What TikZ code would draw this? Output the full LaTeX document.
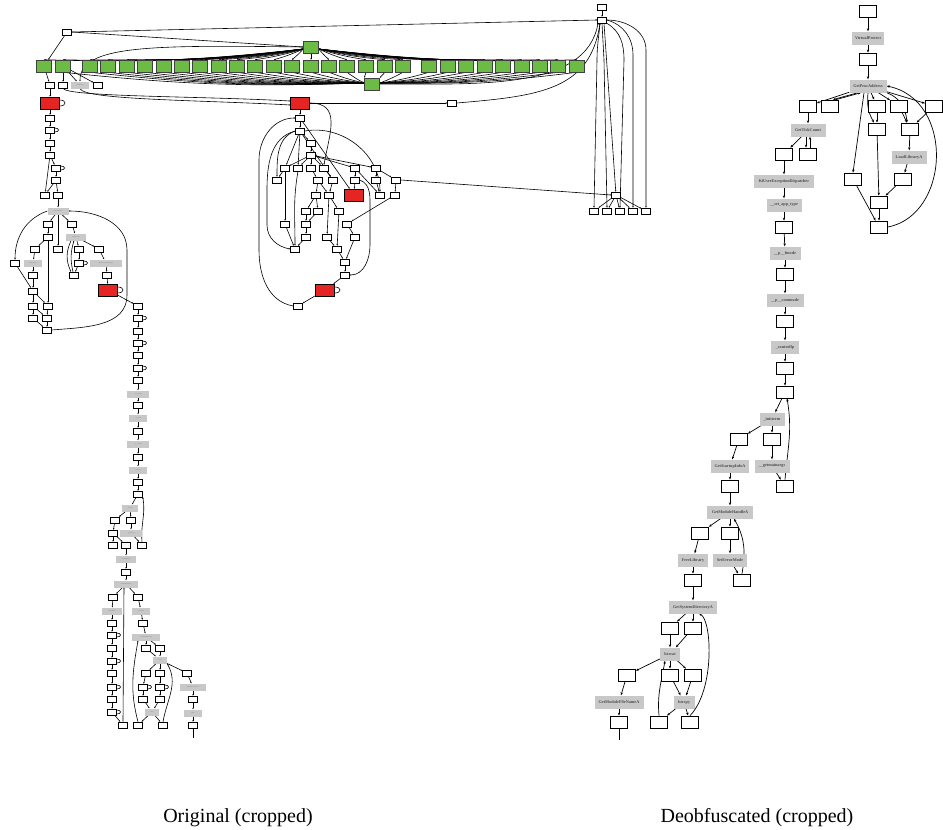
\documentclass[tikz,border=0pt]{standalone}
\usepackage{fontspec}
\setmainfont{Liberation Serif}
\usetikzlibrary{arrows.meta}
\pgfdeclarelayer{bg}\pgfsetlayers{bg,main}
\definecolor{gfill}{RGB}{108,187,69}
\definecolor{rfill}{RGB}{228,37,36}
\definecolor{lgray}{RGB}{200,200,200}
\tikzset{
 ob/.style={draw,fill=white,line width=0.55pt,minimum width=9pt,minimum height=6pt,inner sep=0pt},
 rb/.style={draw,fill=rfill,line width=0.55pt,minimum width=19pt,minimum height=12pt,inner sep=0pt},
 gb/.style={draw=black!75,fill=gfill,line width=0.55pt,minimum width=15pt,minimum height=12pt,inner sep=0pt},
 og/.style={fill=lgray,minimum width=#1,minimum height=7pt,inner sep=0pt,font=\fontsize{1.3}{1.4}\selectfont,text=black!60},
 og/.default=20pt,
 db/.style={draw,fill=white,line width=0.8pt,minimum width=17pt,minimum height=12pt,inner sep=0pt},
 dg/.style={fill=lgray,minimum width=#1,minimum height=13pt,inner sep=0pt,font=\fontsize{4.2}{4.5}\selectfont\bfseries,text=black!70},
 oe/.style={line width=0.6pt,-{Stealth[length=1.6pt,width=1.4pt]}},
 ol/.style={line width=0.6pt},
 de/.style={line width=0.7pt,-{Stealth[length=3pt,width=2.4pt]}},
 dl/.style={line width=0.7pt},
 captxt/.style={font=\fontsize{20}{24}\selectfont}
}
\newcommand\oloop[1]{\draw[ol] ([yshift=2pt]#1.east) .. controls +(5pt,0pt) and +(5pt,0pt) .. ([yshift=-2pt]#1.east);}
\newcommand\rloop[1]{\draw[ol] ([yshift=3pt]#1.east) .. controls +(7pt,0pt) and +(7pt,0pt) .. ([yshift=-3pt]#1.east);}
\begin{document}
\begin{tikzpicture}[x=1pt,y=-1pt]
\useasboundingbox (0,0) rectangle (943,830);
% ---------------- top of original ----------------
\node[ob] (tt0) at (602,7) {};
\node[ob] (tt1) at (602,20) {};
\node[ob] (ta) at (67,32) {};
\node[gb] (gu) at (311,47) {};
\node[gb] (gl) at (372,84) {};
\foreach \x [count=\i] in {44,63,90,108,127,145,164,182,200,219,237,255,274,292,311,329,347,366,385,403,429,448,466,485,503,522,540,558,577}
  \node[gb] (g\i) at (\x,66) {};
\node[ob] (b0) at (50,85) {};
\node[ob] (b1) at (63,85) {};
\node[og=18pt] (l0) at (80,85) {VirtualProtect};
\node[ob] (b3) at (98,85) {};
\node[rb] (pr0) at (50,103) {};
\node[rb] (hr1) at (300,103) {};
\node[ob] (hp) at (452,103) {};
\node[ob] (qq) at (616,195) {};
\foreach \x [count=\i] in {594,607,620,633,646} \node[ob] (qk\i) at (\x,211) {};
% ---------------- left chain ----------------
\node[ob] (pc1) at (50,118) {};
\node[ob] (pc2) at (50,130) {};
\node[ob] (pc3) at (50,143) {};
\node[ob] (pc4) at (50,155) {};
\node[ob] (pc5) at (56,168) {};
\node[ob] (pc6) at (56,180) {};
\node[ob] (pc7) at (45,195) {};
\node[ob] (pc8) at (58,195) {};
\node[og=21pt] (pl1) at (58,211) {GetProcAddress};
\node[ob] (pd1) at (48,224) {};
\node[ob] (pd2) at (72,224) {};
\node[ob] (pd3) at (48,237) {};
\node[og=20pt] (pl2) at (76,237) {GetTickCount};
\node[ob] (pe1) at (35,249) {};
\node[ob] (pe2) at (58,249) {};
\node[ob] (pe3) at (79,249) {};
\node[ob] (pe4) at (99,249) {};
\node[ob] (pf0) at (15,263) {};
\node[og=18pt] (pl3) at (33,263) {LoadLibraryA};
\node[ob] (pf1) at (79,263) {};
\node[og=32pt] (pl4) at (106,263) {KiUserExceptionDispatcher};
\node[ob] (pf2) at (33,275) {};
\node[ob] (pf3) at (74,275) {};
\node[ob] (pf4) at (107,275) {};
\node[ob] (pj1) at (33,291) {};
\node[rb] (pr2) at (108,290) {};
\node[ob] (pj2) at (33,306) {};
\node[ob] (pj3) at (48,306) {};
\node[ob] (pk0) at (33,318) {};
\node[ob] (pk1) at (47,318) {};
\node[ob] (pk2) at (47,330) {};
% ---------------- vertical chain ----------------
\foreach \y [count=\i from 0] in {306,318,331,343,355,368,380} \node[ob] (v\i) at (138,\y) {};
\node[og=22pt] (vs1) at (138,394) {\_\_set\_app\_type};
\node[ob] (v7) at (138,405) {};
\node[og=18pt] (vs2) at (138,418) {\_\_p\_\_fmode};
\node[ob] (v8) at (138,431) {};
\node[og=22pt] (vs3) at (138,444) {\_\_p\_\_commode};
\node[ob] (v9) at (138,457) {};
\node[og=18pt] (vs4) at (138,470) {\_controlfp};
\node[ob] (v10) at (138,482) {};
\node[ob] (v11) at (138,494) {};
\node[og=16pt] (vs5) at (130,508) {\_initterm};
\node[ob] (vn0) at (115,520) {};
\node[ob] (vn1) at (131,520) {};
\node[ob] (vn2) at (113,533) {};
\node[og=22pt] (vs6) at (131,533) {\_\_getmainargs};
\node[ob] (vp0) at (113,545) {};
\node[ob] (vp1) at (126,545) {};
\node[ob] (vp2) at (142,545) {};
\node[og=20pt] (vs7) at (126,559) {GetStartupInfoA};
\node[ob] (vq0) at (126,572) {};
\node[og=24pt] (vs8) at (126,584) {GetModuleHandleA};
\node[ob] (vq1) at (113,597) {};
\node[ob] (vq2) at (138,597) {};
\node[og=20pt] (vs9) at (112,611) {SetErrorMode};
\node[og=18pt] (vs10) at (141,611) {FreeLibrary};
\foreach \y [count=\i from 0] in {623,635,648,661,673,687,699,712} \node[ob] (vw\i) at (112,\y) {};
\node[ob] (vw8) at (143,623) {};
\node[og=28pt] (vs11) at (146,637) {GetSystemDirectoryA};
\node[ob] (vt0) at (146,648) {};
\node[ob] (vt1) at (160,648) {};
\node[og=14pt] (vs12) at (160,660) {lstrcat};
\node[ob] (vu0) at (146,673) {};
\node[ob] (vu1) at (160,673) {};
\node[ob] (vu2) at (187,673) {};
\node[ob] (vu3) at (143,687) {};
\node[ob] (vu4) at (143,699) {};
\node[ob] (vu5) at (160,687) {};
\node[ob] (vu6) at (160,699) {};
\node[og=14pt] (vs13) at (152,712) {lstrcpy};
\node[ob] (vy0) at (123,725) {};
\node[ob] (vy1) at (138,725) {};
\node[ob] (vy2) at (163,725) {};
\node[og=26pt] (vs14) at (193,687) {GetModuleFileNameA};
\node[ob] (vx0) at (193,699) {};
\node[og=18pt] (vs15) at (193,713) {lstrlen};
\node[ob] (vx1) at (193,725) {};
\coordinate (vend) at (193,738);
% ---------------- middle cluster ----------------
\node[ob] (h1) at (300,118) {};
\node[ob] (h2) at (300,131) {};
\node[ob] (h3) at (311,143) {};
\node[ob] (h4) at (311,155) {};
\foreach \x [count=\i] in {285,298,311,324,355,376} \node[ob] (ha\i) at (\x,168) {};
\foreach \x [count=\i] in {277,318,333,355,376,396} \node[ob] (hb\i) at (\x,180) {};
\node[rb] (hr3) at (354,195) {};
\foreach \x [count=\i] in {316,329,380,395} \node[ob] (hc\i) at (\x,195) {};
\foreach \x [count=\i] in {306,318,339} \node[ob] (hd\i) at (\x,211) {};
\foreach \x [count=\i] in {285,306,347} \node[ob] (he\i) at (\x,224) {};
\foreach \x [count=\i] in {306,327,355} \node[ob] (hf\i) at (\x,237) {};
\node[ob] (hg1) at (295,249) {};
\node[ob] (hg2) at (337,249) {};
\node[ob] (hh1) at (345,262) {};
\node[ob] (hh2) at (345,275) {};
\node[rb] (hr4) at (325,290) {};
\node[ob] (hz) at (298,306) {};
% ---------------- deobfuscated ----------------
\node[db] (r0) at (868,11) {};
\node[dg=32pt] (rVP) at (868,38) {VirtualProtect};
\node[db] (r1) at (868,59) {};
\node[dg=37pt] (rGPA) at (868,86) {GetProcAddress};
\foreach \x [count=\i] in {808,830,877,899,934} \node[db] (ra\i) at (\x,106) {};
\node[dg=35pt] (rGTC) at (808,130) {GetTickCount};
\node[db] (rb1) at (877,129) {};
\node[db] (rb2) at (910,129) {};
\node[db] (rc1) at (784,154) {};
\node[db] (rc2) at (808,154) {};
\node[dg=35pt] (rLL) at (909,157) {LoadLibraryA};
\node[dg=60pt] (rKi) at (784,181) {KiUserExceptionDispatcher};
\node[db] (rd1) at (853,179) {};
\node[db] (rd2) at (903,179) {};
\node[dg=35pt] (rSA) at (784,205) {\_\_set\_app\_type};
\node[db] (re1) at (879,202) {};
\node[db] (rf0) at (784,227) {};
\node[db] (rf1) at (879,227) {};
\node[dg=31pt] (rPF) at (785,253) {\_\_p\_\_fmode};
\node[db] (rg0) at (785,274) {};
\node[dg=37pt] (rPC) at (785,300) {\_\_p\_\_commode};
\node[db] (rg1) at (785,321) {};
\node[dg=28pt] (rCF) at (785,347) {\_controlfp};
\node[db] (rg2) at (785,368) {};
\node[db] (rg3) at (785,392) {};
\node[dg=25pt] (rIT) at (772,419) {\_initterm};
\node[db] (rh1) at (739,439) {};
\node[db] (rh2) at (772,439) {};
\node[dg=38pt] (rGS) at (730,466) {GetStartupInfoA};
\node[dg=35pt] (rGM) at (772,466) {\_\_getmainargs};
\node[db] (ri1) at (730,486) {};
\node[db] (ri2) at (785,486) {};
\node[dg=46pt] (rGMH) at (730,512) {GetModuleHandleA};
\node[db] (rj1) at (700,533) {};
\node[db] (rj2) at (730,533) {};
\node[dg=30pt] (rFL) at (693,560) {FreeLibrary};
\node[dg=34pt] (rSE) at (730,560) {SetErrorMode};
\node[db] (rk1) at (693,580) {};
\node[db] (rk2) at (742,580) {};
\node[dg=48pt] (rGSD) at (693,607) {GetSystemDirectoryA};
\node[db] (rl1) at (670,628) {};
\node[db] (rl2) at (693,628) {};
\node[dg=20pt] (rLC) at (670,654) {lstrcat};
\node[db] (rm1) at (627,675) {};
\node[db] (rm2) at (670,675) {};
\node[db] (rm3) at (693,675) {};
\node[dg=49pt] (rGMF) at (619,702) {GetModuleFileNameA};
\node[dg=21pt] (rLY) at (684,702) {lstrcpy};
\node[db] (rn1) at (619,722) {};
\node[db] (rn2) at (659,722) {};
\node[db] (rn3) at (690,722) {};
\coordinate (rend) at (619,740);
% captions
\node[captxt] (cap1) at (238,818) {Original (cropped)};
\node[captxt] (cap2) at (757,818) {Deobfuscated (cropped)};
% loops
\rloop{pr0}\rloop{pr2}\rloop{hr4}
\foreach \n in {pc2,pc5,pf1,v1,v3,v5,vw1,vw3,vw5,vw7,vu3,vu5} {\oloop{\n}}
% ---------------- edges ----------------
\begin{pgfonlayer}{bg}
\draw[oe] (tt0) -- (tt1);
\draw[oe] (ta) -- (g1);
\draw[oe] (ta.east) -- (tt1.west);
\draw[oe] (ta.east) -- (gu.west);
\foreach \i in {1,...,14} \draw[oe] ([yshift=-2pt]gu.west) to[bend left=4] (g\i.north);
\draw[oe] (gu) -- (g15);
\foreach \i in {16,...,29} \draw[oe] ([yshift=-2pt]gu.east) to[bend right=4] (g\i.north);
\foreach \i in {2,...,17} \draw[oe] (g\i.south) to[bend right=4] ([yshift=1pt]gl.west);
\draw[oe] (g18.south) -- (gl.north west);
\draw[oe] (g19.south) -- (gl.north east);
\foreach \i in {20,...,29} \draw[oe] (g\i.south) to[bend left=4] ([yshift=1pt]gl.east);
\draw[oe] (gu.west) .. controls (150,45) and (80,45) .. (l0.north);
\draw[oe] (g1) -- (b0);
\draw[oe] (g2) -- (b1);
\draw[oe] (g2) -- (l0);
\draw[oe] (g2) -- (b3);
\draw[oe] (b0) -- (pr0);
\draw[oe] (b1.south) .. controls (66,97) and (200,96) .. ([yshift=2pt]hr1.west);
\draw[oe] (l0.south) .. controls (85,100) and (200,100) .. ([yshift=-2pt]hr1.west);
\draw[oe] (hr1) -- (hp);
\draw[oe] (hp.east) .. controls (540,96) and (590,90) .. ([xshift=-2pt]tt1.south);
\draw[oe] (gl.east) .. controls (480,84) and (586,90) .. ([xshift=-4pt]tt1.south);
\draw[oe] ([xshift=-2pt]tt1.south) to[out=-95,in=90] (597,60) -- (qk1.north);
\draw[oe] (tt1.south) -- (604,60) -- (qk2.north);
\draw[oe] (tt1.south east) to[out=-30,in=90] (624,60) -- (qk3.north);
\draw[oe] (tt1.east) to[out=-15,in=90] (633,55) -- (qk4.north);
\draw[oe] (tt1.east) to[out=0,in=90] (646,50) -- (qk5.north);
\draw[oe] ([xshift=2pt]tt1.south) -- (qq);
\foreach \i in {1,...,5} \draw[oe] (qq) -- (qk\i);
\draw[oe] (hb6.east) -- (qq.west);
% left chain
\foreach \a/\b in {pr0/pc1,pc1/pc2,pc2/pc3,pc3/pc4,pc4/pc5,pc5/pc6,pc4/pc7,pc6/pc7,pc6/pc8,pc8/pl1,
  pl1/pd1,pl1/pd2,pl1/pe2,pd1/pd3,pd2/pl2,pd3/pe1,pd3/pj3,pe1/pl3,pl3/pf2,pf2/pj1,pf0/pj1,pj1/pj2,pj1/pj3,
  pj2/pk0,pj3/pk1,pj2/pk1,pk0/pk2,pk1/pk2,pl2/pe3,pl2/pe4,pe3/pf1,pf1/pf3,pe4/pl4,pl4/pf4,pf4/pr2}
  \draw[oe] (\a) -- (\b);
\draw[oe] (pl1.west) to[out=200,in=90] (pf0.north);
\draw[oe] (pk2.east) to[out=5,in=-90] (127,295) -- (127,250) to[out=90,in=0] (pl1.east);
\draw[oe] ([xshift=-5pt]pl2.south) to[bend right=25] ([xshift=-3pt]pf3.north);
\draw[oe] ([xshift=-1pt]pf3.north) to[bend left=15] ([xshift=-2pt]pl2.south);
\draw[oe] (pr2) -- (v0);
% vertical chain
\foreach \a/\b in {v0/v1,v1/v2,v2/v3,v3/v4,v4/v5,v5/v6,v6/vs1,vs1/v7,v7/vs2,vs2/v8,v8/vs3,vs3/v9,v9/vs4,vs4/v10,v10/v11,v11/vs5,
  vs5/vn0,vs5/vn1,vn0/vn2,vn1/vs6,vn2/vp0,vn2/vp1,vs6/vp2,vp1/vs7,vs7/vq0,vq0/vs8,vs8/vq1,vs8/vq2,vq1/vs9,vq2/vs10,
  vs9/vw0,vw0/vw1,vw1/vw2,vw2/vw3,vw3/vw4,vw4/vw5,vw5/vw6,vw6/vw7,vw7/vy0,vs10/vw8,vw8/vs11,vs11/vt0,vs11/vt1,
  vt0/vs12,vt1/vs12,vs12/vu0,vs12/vu1,vs12/vu2,vu0/vu3,vu3/vu4,vu4/vs13,vu1/vu5,vu5/vu6,vu6/vs13,vs13/vy1,vs13/vy2,
  vu2/vs14,vs14/vx0,vx0/vs15,vs15/vx1}
  \draw[oe] (\a) -- (\b);
\draw[oe] (vp2.north) to[out=95,in=-80] (v11.south east);
\draw[oe] (vy0.north) -- ([xshift=-2pt]vs8.south);
\draw[oe] (vy1.north) to[out=105,in=-100] ([xshift=-8pt]vs11.south);
\draw[oe] (vy2.north) to[out=80,in=-60] (vs12.south east);
\draw[ol] (vx1) -- (vend);
% middle cluster
\foreach \a/\b in {hr1/h1,h1/h2,h1/hr3,h2/h3,h3/h4,h2/ha1,h2/ha2,h2/hb3,h4/ha1,h4/ha2,h4/ha3,h4/ha4,h4/ha5,h4/ha6,
  ha1/hb1,ha1/he1,ha3/hb2,ha4/hb3,ha5/hb4,ha5/hc3,ha6/hb5,ha6/hb6,hb5/hc3,hb4/hr3,hb6/hc4,hb2/hc1,hb2/hc2,hb3/hc2,
  hc1/hd1,hc1/hd2,hd1/he2,hd2/he2,he2/hf1,hf1/hg1,he1/hg1,hc2/hf2,hc2/hd3,hd3/hg2,hc4/he3,he3/hf3,hf2/hg2,
  hg2/hh1,hf3/hh1,hh1/hh2,hh2/hr4,hr4/hz}
  \draw[oe] (\a) -- (\b);
\draw[oe] (hr1.east) to[out=0,in=80,looseness=1.3] (ha4.north);
\draw[oe] (h2.west) to[out=200,in=90] (hb1.north);
\draw[oe] (h2.west) to[out=195,in=90] (267,190) -- (267,225) to[out=-90,in=170] (hg1.west);
\draw[oe] (h2.east) to[out=10,in=90] (hc3.north);
\draw[oe] (ha2.south) to[out=-100,in=90] (hg1.north);
\draw[oe] (hz.west) to[out=170,in=-90] (259,250) -- (259,160) to[out=90,in=180] (h1.west);
\draw[oe] (hb4.east) to[out=-20,in=90] (370,210) -- (370,245) to[out=-90,in=0] (hh2.east);
% deobfuscated edges
\foreach \a/\b in {r0/rVP,rVP/r1,r1/rGPA,rGPA/ra1,rGPA/ra3,rGPA/ra4,rGPA/ra5,ra3/rb1,ra4/rb2,ra5/rb2,
  rb2/rLL,rLL/rd2,rd2/re1,rb1/re1,re1/rf1,rd1/rf1,ra1/rGTC,rGTC/rc1,rc1/rKi,rKi/rSA,rSA/rf0,rf0/rPF,rPF/rg0,
  rg0/rPC,rPC/rg1,rg1/rCF,rCF/rg2,rg2/rg3,rg3/rIT,rIT/rh1,rIT/rh2,rh1/rGS,rGS/ri1,rh2/rGM,rGM/ri2,ri1/rGMH,
  rGMH/rj1,rGMH/rj2,rj1/rFL,rFL/rk1,rk1/rGSD,rj2/rSE,rSE/rk2,rGSD/rl1,rGSD/rl2,rl1/rLC,rl2/rLC,rLC/rm1,rLC/rm2,
  rLC/rm3,rm1/rGMF,rGMF/rn1,rm2/rLY,rm3/rLY,rLY/rn2,rLY/rn3}
  \draw[de] (\a) -- (\b);
\draw[de] ([xshift=-10pt]rGPA.south) -- ([xshift=3pt]ra2.north);
\draw[de] ([xshift=6pt]ra2.north) -- ([xshift=-7pt]rGPA.south);
\draw[de] ([xshift=-2pt]rGTC.south) -- ([xshift=-2pt]rc2.north);
\draw[de] ([xshift=2pt]rc2.north) -- ([xshift=2pt]rGTC.south);
\draw[de] ([xshift=-4pt]rGPA.south) -- (rd1.north);
\draw[de] (rGPA.south) to[out=-95,in=120] ([xshift=-3pt]rb1.north);
\draw[de] (rGPA.south east) to[out=-20,in=95] ([xshift=-3pt]rb2.north);
\draw[de] (rf1.east) .. controls (950,215) and (955,100) .. (rGPA.east);
\draw[de] (ri2.north) to[out=85,in=-80] ([xshift=2pt]rg3.south);
\draw[de] (rk2.north) to[out=80,in=-60] ([xshift=4pt]rGMH.south);
\draw[de] (rn2.north) to[out=95,in=-100] ([xshift=-5pt]rLC.south);
\draw[de] (rn3.north) .. controls (715,690) and (712,620) .. ([xshift=6pt]rGSD.south);
\draw[dl] (rn1) -- (rend);
\end{pgfonlayer}
\end{tikzpicture}
\end{document}
